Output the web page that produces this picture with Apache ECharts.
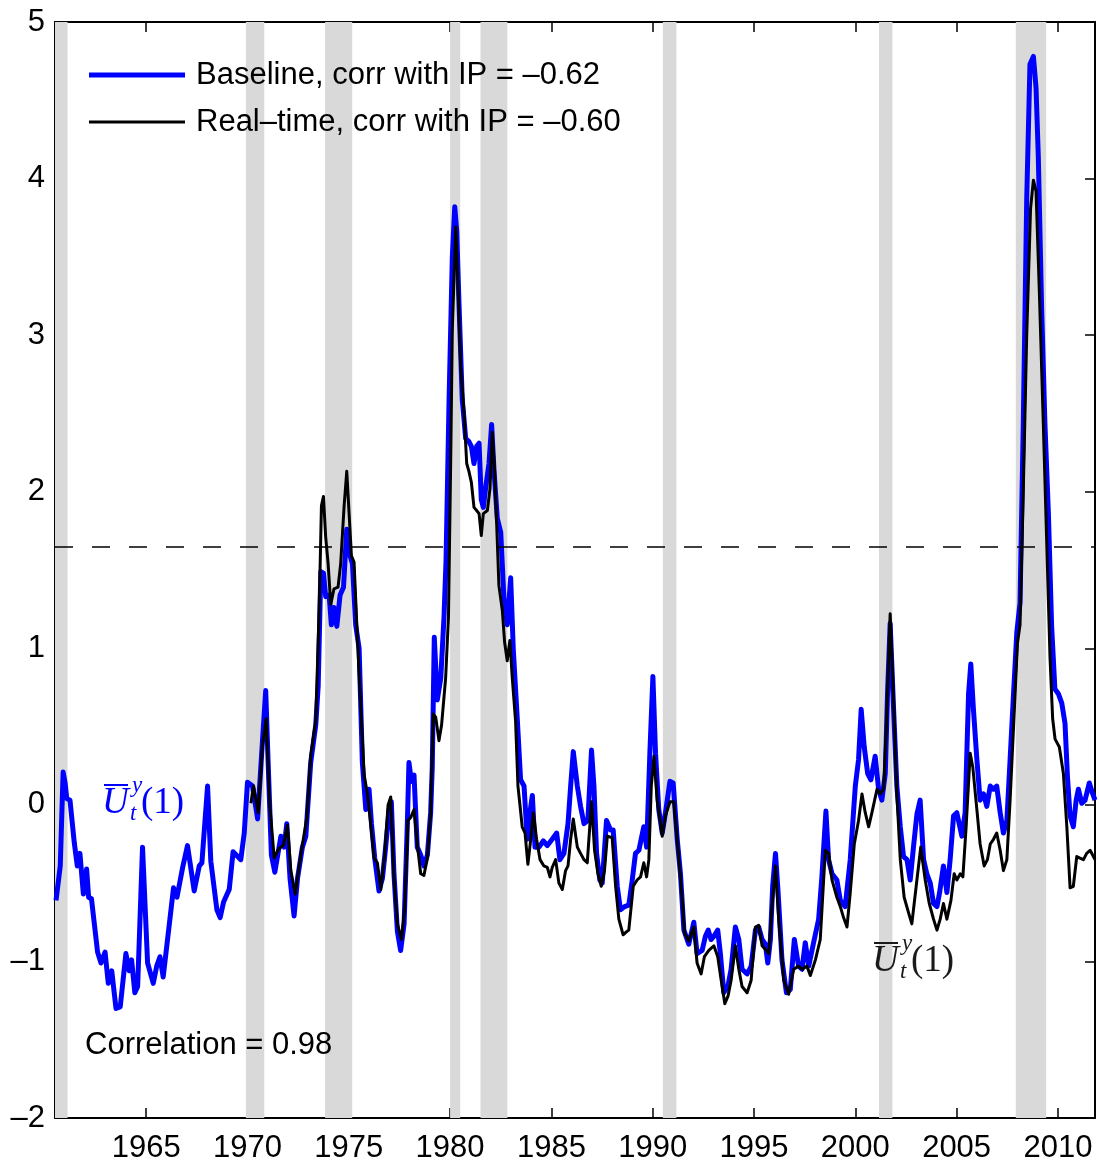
<!DOCTYPE html>
<html>
<head>
<meta charset="utf-8">
<script src="https://cdn.jsdelivr.net/npm/echarts@6/dist/echarts.min.js"></script>
<style>
html,body{margin:0;padding:0;background:#fff;}
#chart{width:1099px;height:1167px;}
</style>
</head>
<body>
<div id="chart"></div>
<script>
// ---------------- data ----------------
var baseDates = [1960.55,1960.76,1960.9,1961.0,1961.08,1961.24,1961.45,1961.6,1961.73,1961.9,1962.06,1962.16,1962.3,1962.6,1962.77,1962.97,1963.13,1963.3,1963.51,1963.72,1964.0,1964.16,1964.28,1964.44,1964.58,1964.82,1965.07,1965.35,1965.52,1965.68,1965.84,1966.35,1966.52,1966.8,1967.04,1967.37,1967.62,1967.75,1968.03,1968.19,1968.49,1968.65,1968.82,1969.1,1969.29,1969.67,1969.84,
1970.0,1970.25,1970.5,1970.74,1970.9,1971.02,1971.18,1971.35,1971.65,1971.81,1971.94,1972.1,1972.3,1972.47,1972.71,1972.88,1973.12,1973.37,1973.49,1973.62,1973.75,1973.86,1974.03,1974.14,1974.27,1974.41,1974.57,1974.74,1974.9,1975.02,1975.18,1975.34,1975.51,1975.67,1975.84,1976.0,1976.12,1976.28,1976.49,1976.66,1976.82,1976.99,1977.1,1977.23,1977.4,1977.56,1977.73,1977.89,1977.97,1978.09,1978.22,1978.38,1978.55,1978.71,1978.88,1979.04,1979.12,1979.22,1979.37,1979.54,1979.7,1979.8,1979.95,
1980.11,1980.23,1980.33,1980.44,1980.6,1980.77,1980.93,1981.05,1981.18,1981.31,1981.43,1981.54,1981.64,1981.75,1981.92,1982.05,1982.17,1982.33,1982.5,1982.66,1982.82,1982.99,1983.12,1983.32,1983.48,1983.65,1983.81,1983.94,1984.06,1984.19,1984.39,1984.6,1984.8,1985.04,1985.26,1985.42,1985.62,1985.82,1985.95,1986.08,1986.28,1986.44,1986.61,1986.8,1986.98,1987.1,1987.23,1987.39,1987.51,1987.72,1987.92,1988.05,1988.25,1988.41,1988.61,1988.82,1988.99,1989.15,1989.32,1989.43,1989.56,1989.7,1989.86,
1990.01,1990.14,1990.3,1990.47,1990.63,1990.85,1991.01,1991.21,1991.37,1991.54,1991.78,1992.03,1992.19,1992.44,1992.6,1992.74,1992.88,1993.02,1993.21,1993.34,1993.51,1993.71,1993.87,1994.08,1994.25,1994.41,1994.66,1994.86,1995.07,1995.23,1995.4,1995.56,1995.68,1995.81,1995.92,1996.06,1996.19,1996.38,1996.6,1996.79,1996.99,1997.2,1997.37,1997.53,1997.7,1997.94,1998.19,1998.35,1998.55,1998.68,1998.85,1999.09,1999.26,1999.5,1999.75,
2000.0,2000.16,2000.29,2000.44,2000.61,2000.77,2000.98,2001.15,2001.31,2001.48,2001.59,2001.72,2001.89,2002.05,2002.22,2002.38,2002.55,2002.71,2002.87,2003.04,2003.2,2003.37,2003.53,2003.7,2003.86,2004.03,2004.16,2004.35,2004.52,2004.68,2004.85,2005.01,2005.26,2005.42,2005.59,2005.7,2005.83,2006.0,2006.16,2006.33,2006.49,2006.66,2006.82,2006.98,2007.15,2007.31,2007.48,2007.64,2007.81,2007.97,2008.13,2008.29,2008.46,2008.62,2008.79,2008.92,2009.03,2009.2,2009.36,2009.53,2009.69,2009.85,
2010.02,2010.19,2010.35,2010.47,2010.6,2010.76,2010.9,2011.01,2011.18,2011.34,2011.55,2011.72,2011.83];
var baseVals = [-0.61,-0.39,0.21,0.14,0.04,0.03,-0.24,-0.39,-0.31,-0.57,-0.41,-0.59,-0.60,-0.94,-1.01,-0.94,-1.14,-1.06,-1.30,-1.29,-0.95,-1.06,-0.99,-1.20,-1.16,-0.27,-1.01,-1.14,-1.03,-0.97,-1.10,-0.53,-0.59,-0.40,-0.26,-0.55,-0.39,-0.37,0.12,-0.36,-0.67,-0.72,-0.62,-0.54,-0.30,-0.35,-0.18,
0.145,0.12,-0.09,0.41,0.73,0.27,-0.32,-0.43,-0.20,-0.27,-0.12,-0.47,-0.71,-0.47,-0.27,-0.20,0.27,0.51,0.76,1.49,1.48,1.33,1.34,1.15,1.26,1.14,1.34,1.39,1.76,1.61,1.54,1.15,1.00,0.27,-0.03,0.10,-0.12,-0.34,-0.55,-0.47,-0.27,-0.03,0.02,-0.44,-0.81,-0.93,-0.76,-0.12,0.27,0.15,0.19,-0.27,-0.32,-0.39,-0.32,-0.05,0.24,1.07,0.67,0.81,1.20,1.56,2.59,
3.50,3.82,3.66,3.20,2.59,2.34,2.32,2.29,2.18,2.29,2.31,1.95,1.90,2.02,2.18,2.43,2.13,1.83,1.74,1.31,1.15,1.45,0.99,0.54,0.16,0.12,-0.22,-0.05,0.06,-0.27,-0.27,-0.23,-0.26,-0.22,-0.18,-0.35,-0.31,-0.12,0.12,0.34,0.12,-0.01,-0.12,-0.10,0.35,0.12,-0.31,-0.48,-0.50,-0.10,-0.16,-0.16,-0.52,-0.67,-0.65,-0.64,-0.48,-0.31,-0.29,-0.22,-0.14,-0.27,0.33,
0.82,0.33,-0.03,-0.18,-0.05,0.15,0.14,-0.22,-0.44,-0.80,-0.89,-0.75,-0.95,-0.93,-0.84,-0.80,-0.86,-0.84,-0.80,-0.95,-1.20,-1.16,-1.05,-0.78,-0.86,-1.05,-1.08,-1.03,-0.80,-0.78,-0.86,-0.89,-1.01,-0.86,-0.52,-0.31,-0.56,-0.99,-1.20,-1.18,-0.86,-1.03,-1.05,-0.88,-1.03,-0.88,-0.73,-0.46,-0.04,-0.35,-0.44,-0.48,-0.61,-0.65,-0.35,
0.12,0.29,0.61,0.37,0.20,0.16,0.31,0.10,0.03,0.20,0.71,1.16,0.61,0.12,-0.14,-0.33,-0.35,-0.48,-0.27,-0.06,0.03,-0.35,-0.44,-0.50,-0.63,-0.65,-0.56,-0.39,-0.56,-0.35,-0.07,-0.05,-0.20,-0.05,0.71,0.90,0.61,0.29,0.03,0.07,-0.01,0.12,0.10,0.12,-0.05,-0.18,-0.10,0.29,0.71,1.10,1.29,2.43,3.87,4.73,4.78,4.58,4.15,3.15,2.43,1.86,1.14,0.74,
0.71,0.65,0.52,0.18,-0.07,-0.14,0.03,0.10,0.01,0.03,0.14,0.07,0.03];

var rtDates = [1970.17,1970.3,1970.53,1970.74,1970.92,1971.1,1971.32,1971.54,1971.77,1971.97,1972.14,1972.36,1972.63,1972.93,1973.12,1973.37,1973.54,1973.65,1973.75,1973.86,1973.98,1974.11,1974.27,1974.47,1974.6,1974.77,1974.9,1975.05,1975.13,1975.26,1975.43,1975.59,1975.76,1975.92,1976.08,1976.25,1976.41,1976.58,1976.77,1976.94,1977.07,1977.23,1977.4,1977.6,1977.76,1977.92,1978.06,1978.22,1978.38,1978.55,1978.71,1978.88,1979.04,1979.17,1979.29,1979.45,1979.58,1979.78,1979.92,
1980.03,1980.11,1980.28,1980.39,1980.52,1980.69,1980.82,1980.93,1981.05,1981.18,1981.31,1981.43,1981.54,1981.64,1981.84,1981.97,1982.08,1982.2,1982.3,1982.41,1982.58,1982.69,1982.82,1982.95,1983.07,1983.23,1983.35,1983.56,1983.7,1983.84,1983.98,1984.11,1984.27,1984.44,1984.63,1984.8,1984.93,1985.04,1985.21,1985.37,1985.54,1985.7,1985.82,1985.95,1986.08,1986.28,1986.44,1986.61,1986.77,1986.98,1987.13,1987.3,1987.46,1987.62,1987.76,1988.0,1988.17,1988.33,1988.54,1988.71,1988.82,1989.04,1989.23,1989.4,1989.56,1989.7,1989.81,1989.93,
1990.06,1990.22,1990.47,1990.63,1990.85,1991.04,1991.24,1991.45,1991.57,1991.78,1992.03,1992.19,1992.39,1992.55,1992.77,1993.02,1993.21,1993.38,1993.56,1993.72,1993.87,1994.08,1994.25,1994.41,1994.66,1994.86,1995.07,1995.23,1995.4,1995.61,1995.73,1995.89,1996.06,1996.22,1996.47,1996.71,1996.96,1997.2,1997.37,1997.61,1997.78,1998.03,1998.27,1998.52,1998.68,1998.85,1999.09,1999.26,1999.42,1999.59,1999.75,1999.95,
2000.16,2000.33,2000.49,2000.66,2000.82,2001.07,2001.23,2001.4,2001.53,2001.72,2001.89,2002.05,2002.22,2002.41,2002.63,2002.79,2003.04,2003.23,2003.45,2003.65,2003.86,2004.03,2004.19,2004.35,2004.52,2004.72,2004.88,2005.01,2005.18,2005.31,2005.47,2005.67,2005.8,2006.0,2006.16,2006.36,2006.52,2006.66,2006.82,2006.98,2007.15,2007.31,2007.48,2007.64,2007.81,2008.0,2008.13,2008.29,2008.46,2008.65,2008.79,2008.92,2009.08,2009.28,2009.44,2009.61,2009.74,2009.86,
2010.07,2010.27,2010.44,2010.6,2010.76,2010.93,2011.09,2011.26,2011.42,2011.59,2011.83];
var rtVals = [0.01,0.12,-0.05,0.38,0.55,0.0,-0.34,-0.28,-0.26,-0.13,-0.42,-0.57,-0.32,-0.08,0.31,0.54,1.25,1.91,1.97,1.71,1.54,1.28,1.38,1.39,1.54,1.91,2.13,1.78,1.59,1.55,1.05,0.63,0.19,0.07,-0.12,-0.34,-0.37,-0.54,-0.32,0.0,0.05,-0.47,-0.76,-0.86,-0.66,-0.10,-0.08,-0.03,-0.25,-0.44,-0.45,-0.34,-0.05,0.58,0.56,0.41,0.51,0.81,1.20,
2.20,3.04,3.69,3.32,2.81,2.50,2.18,2.13,2.06,1.90,1.88,1.86,1.72,1.86,1.88,2.02,2.38,2.13,1.79,1.40,1.24,1.04,0.92,1.05,0.81,0.54,0.12,-0.14,-0.18,-0.38,-0.22,-0.05,-0.22,-0.35,-0.39,-0.40,-0.46,-0.40,-0.35,-0.50,-0.54,-0.42,-0.39,-0.22,-0.09,-0.27,-0.31,-0.35,-0.37,0.02,-0.29,-0.44,-0.52,-0.42,-0.20,-0.21,-0.52,-0.73,-0.83,-0.81,-0.80,-0.52,-0.48,-0.46,-0.37,-0.46,-0.35,0.12,
0.31,0.03,-0.20,-0.07,0.02,0.02,-0.27,-0.59,-0.82,-0.87,-0.78,-1.01,-1.08,-0.97,-0.93,-0.90,-0.97,-1.12,-1.27,-1.22,-1.12,-0.90,-1.05,-1.16,-1.20,-1.12,-0.78,-0.77,-0.90,-0.93,-0.95,-0.65,-0.39,-0.73,-1.12,-1.21,-1.05,-1.03,-1.05,-1.03,-1.09,-0.99,-0.86,-0.29,-0.31,-0.48,-0.59,-0.65,-0.72,-0.78,-0.56,-0.25,
-0.10,0.07,-0.05,-0.14,-0.05,0.10,0.07,0.10,0.50,1.22,0.67,0.07,-0.35,-0.59,-0.69,-0.76,-0.48,-0.27,-0.48,-0.63,-0.73,-0.80,-0.73,-0.63,-0.73,-0.61,-0.44,-0.48,-0.44,-0.46,-0.14,0.33,0.24,-0.03,-0.25,-0.39,-0.35,-0.25,-0.22,-0.18,-0.29,-0.42,-0.35,0.03,0.50,1.03,1.15,2.00,3.00,3.81,3.99,3.92,3.29,2.43,1.71,0.94,0.55,0.42,
0.37,0.20,-0.14,-0.53,-0.52,-0.33,-0.34,-0.35,-0.31,-0.29,-0.35];

// NBER recessions (start, end) in decimal years
var recStart = [1960.5, 1969.92, 1973.83, 1980.0, 1981.5, 1990.5, 2001.17, 2007.92];
var recEnd   = [1961.12, 1970.83, 1975.17, 1980.5, 1982.83, 1991.17, 2001.83, 2009.42];

var xTicks = [1965, 1970, 1975, 1980, 1985, 1990, 1995, 2000, 2005, 2010];
var thresholdValue = [1.65];
var seriesNames = ['Baseline, corr with IP = –0.62', 'Real–time, corr with IP = –0.60'];
var corrText = 'Correlation = 0.98';

// ---------------- build ----------------
function pairs(d, v) { var o = []; for (var i = 0; i < d.length; i++) o.push([d[i], v[i]]); return o; }
var recAreas = recStart.map(function (s, i) { return [{ xAxis: s }, { xAxis: recEnd[i] }]; });

var SANS = "'Liberation Sans', Arial, sans-serif";
var SERIF = "'Liberation Serif', 'DejaVu Serif', serif";
var FS = 31;
var XMIN = 1960.5, XMAX = 2011.83;

var chart = echarts.init(document.getElementById('chart'), null, { renderer: 'canvas' });

function mathLabel(x0, y0, color) {
  return {
    type: 'group', x: x0, y: y0, silent: true, z: 100,
    children: [
      { type: 'text', x: 0, y: 0, z: 100, style: { text: 'U', font: 'italic 37px ' + SERIF, fill: color, textVerticalAlign: 'middle' } },
      { type: 'line', z: 100, shape: { x1: 2, y1: -18, x2: 26, y2: -18 }, style: { stroke: color, lineWidth: 2 } },
      { type: 'text', x: 30, y: -17, z: 100, style: { text: 'y', font: 'italic 23px ' + SERIF, fill: color, textVerticalAlign: 'middle' } },
      { type: 'text', x: 28, y: 11, z: 100, style: { text: 't', font: 'italic 23px ' + SERIF, fill: color, textVerticalAlign: 'middle' } },
      { type: 'text', x: 39, y: 0, z: 100, style: { text: '(1)', font: '37px ' + SERIF, fill: color, textVerticalAlign: 'middle' } }
    ]
  };
}

var axisLineStyle = { color: '#000', width: 2 };
var tickStyle = { color: '#000', width: 1.5 };

var option = {
  animation: false,
  backgroundColor: '#fff',
  grid: { left: 55, right: 4, top: 22, bottom: 49, containLabel: false },
  legend: [
    { data: [seriesNames[0]], left: 84, top: 50, orient: 'vertical', icon: 'rect', itemWidth: 96, itemHeight: 5, z: 50,
      textStyle: { fontFamily: SANS, fontSize: FS, color: '#000', lineHeight: 40, padding: [0, 0, 0, 6] }, selectedMode: false },
    { data: [seriesNames[1]], left: 84, top: 97, orient: 'vertical', icon: 'rect', itemWidth: 96, itemHeight: 3, z: 50,
      textStyle: { fontFamily: SANS, fontSize: FS, color: '#000', lineHeight: 40, padding: [0, 0, 0, 6] }, selectedMode: false }
  ],
  xAxis: [
    { type: 'value', position: 'bottom', min: XMIN, max: XMAX,
      axisLine: { show: true, onZero: false, lineStyle: axisLineStyle },
      axisTick: { show: true, inside: true, length: 10, lineStyle: tickStyle, customValues: xTicks },
      axisLabel: { show: true, customValues: xTicks, margin: 15, color: '#000', fontFamily: SANS, fontSize: FS,
        formatter: function (v) { return String(Math.round(v)); } },
      splitLine: { show: false } },
    { type: 'value', position: 'top', min: XMIN, max: XMAX,
      axisLine: { show: true, onZero: false, lineStyle: axisLineStyle },
      axisTick: { show: true, inside: true, length: 10, lineStyle: tickStyle, customValues: xTicks },
      axisLabel: { show: false }, splitLine: { show: false } }
  ],
  yAxis: [
    { type: 'value', position: 'left', min: -2, max: 5, interval: 1,
      axisLine: { show: true, onZero: false, lineStyle: axisLineStyle },
      axisTick: { show: true, inside: true, length: 10, lineStyle: tickStyle },
      axisLabel: { margin: 10, color: '#000', fontFamily: SANS, fontSize: FS,
        formatter: function (v) { return String(v).replace('-', '–'); } },
      splitLine: { show: false } },
    { type: 'value', position: 'right', min: -2, max: 5, interval: 1,
      axisLine: { show: true, onZero: false, lineStyle: axisLineStyle },
      axisTick: { show: true, inside: true, length: 10, lineStyle: tickStyle },
      axisLabel: { show: false }, splitLine: { show: false } }
  ],
  series: [
    { name: seriesNames[0], type: 'line', xAxisIndex: 0, yAxisIndex: 0,
      data: pairs(baseDates, baseVals), showSymbol: false, symbol: 'none',
      color: '#0000ff', lineStyle: { color: '#0000ff', width: 5, join: 'round' },
      z: 3,
      markArea: { silent: true, itemStyle: { color: '#d9d9d9', opacity: 1 }, data: recAreas },
      markLine: { silent: true, symbol: ['none', 'none'], label: { show: false },
        lineStyle: { color: '#000', width: 1.6, type: [18, 19] },
        data: [{ yAxis: thresholdValue[0] }] } },
    { name: seriesNames[1], type: 'line', xAxisIndex: 0, yAxisIndex: 0,
      data: pairs(rtDates, rtVals), showSymbol: false, symbol: 'none',
      color: '#000', lineStyle: { color: '#000', width: 3, join: 'round' }, z: 4 }
  ],
  graphic: [
    { type: 'text', x: 85, y: 1045, silent: true, z: 100,
      style: { text: corrText, font: FS + 'px ' + SANS, fill: '#000', textVerticalAlign: 'middle' } },
    mathLabel(102, 803, '#0000ff'),
    mathLabel(872, 961, '#1a1a1a')
  ]
};
chart.setOption(option);
</script>
</body>
</html>
